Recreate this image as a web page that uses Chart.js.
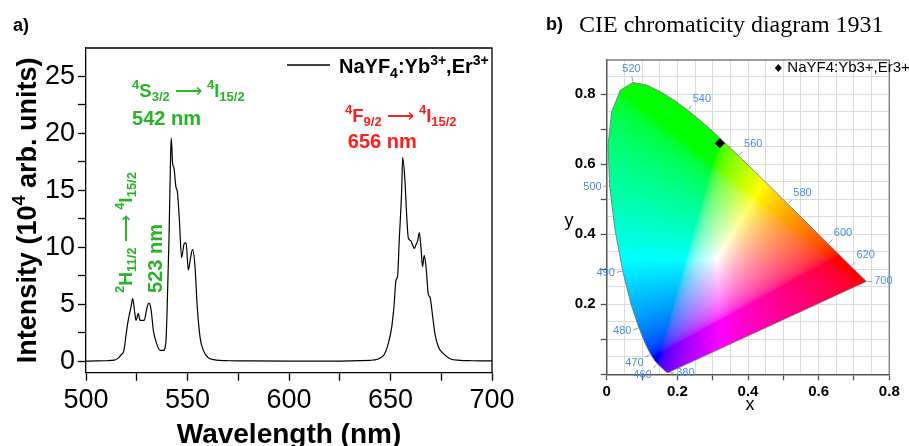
<!DOCTYPE html>
<html>
<head>
<meta charset="utf-8">
<title>NaYF4:Yb,Er upconversion emission and CIE coordinates</title>
<script src="https://cdn.jsdelivr.net/npm/chart.js@4.4.1/dist/chart.umd.min.js"></script>
<style>
  html, body { margin: 0; padding: 0; background: #fff; }
  body { position: relative; width: 909px; height: 446px; overflow: hidden; }
  .box { position: absolute; top: 0; }
  #boxA { left: 0; width: 540px; height: 446px; }
  #boxB { left: 540px; width: 369px; height: 446px; }
  .tag { position: absolute; font-family: 'Liberation Sans', Arial, sans-serif; font-weight: bold; font-size: 18px; line-height: 18px; white-space: nowrap; }
  .cie { position: absolute; font-family: 'Liberation Serif', 'Times New Roman', serif; font-size: 24px; line-height: 24px; white-space: nowrap; }
</style>
</head>
<body>
<div id="boxA" class="box"><canvas id="spectrum" width="540" height="446"></canvas></div>
<div id="boxB" class="box"><canvas id="cie" width="369" height="446"></canvas></div>
<div class="tag" style="left:13px; top:16px;">a)</div>
<div class="tag" style="left:546px; top:15px;">b)</div>
<div class="cie" style="left:579px; top:12px;">CIE chromaticity diagram 1931</div>

<script>
const FONT = "'Liberation Sans', Arial, sans-serif";
const GREEN = '#27b427';
const RED = '#ff1e1e';
const LOCUS_BLUE = '#4a8ee0';

// emission spectrum (wavelength in nm, intensity in 10^4 arb. units)
const wavelength = [500, 505, 510, 514, 516, 517.5, 518.7, 519.7, 520.8, 522.2, 523, 524, 524.6, 525.8,
  526.6, 528.7, 529.9, 531, 532, 533.2, 534.8, 536.5, 538.1, 539.4, 540, 540.9, 541.7, 542, 542.7,
  543.3, 544.3, 545, 546, 547.1, 548.3, 549.3, 550.4, 551.5, 552.5, 553.7, 554.8, 556.2, 557.8,
  560.2, 563, 566, 570, 580, 600, 620, 640, 646.5, 648.9, 650.6, 651.7, 652.7, 653.5, 654.3, 655.5,
  656, 657.1, 658, 658.8, 659.9, 660.9, 661.7, 662.5, 663.4, 664.2, 665, 665.8, 666.6, 667.5, 668.6,
  669.5, 670.8, 671.9, 673.6, 676.1, 679.3, 684.2, 690, 700];
const intensity = [0.02, 0.03, 0.05, 0.1, 0.3, 0.6, 0.96, 2.3, 3.6, 4.8, 5.5, 4.3, 3.6, 4.2,
  3.6, 3.6, 4.6, 5.1, 4.6, 2.7, 1.55, 0.96, 0.96, 1.8, 4.8, 10.9, 18.2, 19.6, 17.3,
  17.0, 15.3, 14.9, 12.4, 9.1, 10.3, 10.4, 8.0, 9.1, 9.8, 8.3, 4.8, 2.1, 0.96,
  0.32, 0.15, 0.08, 0.05, 0.03, 0.02, 0.02, 0.09, 0.5, 1.55, 3.0, 4.8, 7.1, 7.5, 10.6, 15.0,
  17.9, 15.9, 12.7, 10.8, 10.6, 10.2, 9.9, 10.2, 10.6, 11.3, 10.0, 8.3, 9.3, 8.3, 5.9,
  5.6, 3.9, 2.4, 1.25, 0.67, 0.23, 0.09, 0.05, 0.03];

const specTicksX = [500, 525, 550, 575, 600, 625, 650, 675, 700];
const specLabelsX = [500, 550, 600, 650, 700];
const specTicksY = [0, 2.5, 5, 7.5, 10, 12.5, 15, 17.5, 20, 22.5, 25];
const specLabelsY = [0, 5, 10, 15, 20, 25];

// CIE 1931 spectral locus
const locusNm = [380, 385, 390, 395, 400, 405, 410, 415, 420, 425, 430, 435, 440, 445, 450, 455,
  460, 465, 470, 475, 480, 485, 490, 495, 500, 505, 510, 515, 520, 525, 530, 535, 540, 545, 550,
  555, 560, 565, 570, 575, 580, 585, 590, 595, 600, 605, 610, 615, 620, 625, 630, 635, 640, 645,
  650, 655, 660, 665, 670, 675, 680, 685, 690, 695, 700];
const locusX = [0.1741, 0.1740, 0.1738, 0.1736, 0.1733, 0.1730, 0.1726, 0.1721, 0.1714, 0.1703,
  0.1689, 0.1669, 0.1644, 0.1611, 0.1566, 0.1510, 0.1440, 0.1355, 0.1241, 0.1096, 0.0913, 0.0687,
  0.0454, 0.0235, 0.0082, 0.0039, 0.0139, 0.0389, 0.0743, 0.1142, 0.1547, 0.1929, 0.2296, 0.2658,
  0.3016, 0.3373, 0.3731, 0.4087, 0.4441, 0.4788, 0.5125, 0.5448, 0.5752, 0.6029, 0.6270, 0.6482,
  0.6658, 0.6801, 0.6915, 0.7006, 0.7079, 0.7140, 0.7190, 0.7230, 0.7260, 0.7283, 0.7300, 0.7311,
  0.7320, 0.7327, 0.7334, 0.7340, 0.7344, 0.7346, 0.7347];
const locusY = [0.0050, 0.0050, 0.0049, 0.0049, 0.0048, 0.0048, 0.0048, 0.0048, 0.0051, 0.0058,
  0.0069, 0.0086, 0.0109, 0.0138, 0.0177, 0.0227, 0.0297, 0.0399, 0.0578, 0.0868, 0.1327, 0.2007,
  0.2950, 0.4127, 0.5384, 0.6548, 0.7502, 0.8120, 0.8338, 0.8262, 0.8059, 0.7816, 0.7543, 0.7243,
  0.6923, 0.6589, 0.6245, 0.5896, 0.5547, 0.5202, 0.4866, 0.4544, 0.4242, 0.3965, 0.3725, 0.3514,
  0.3340, 0.3197, 0.3083, 0.2993, 0.2920, 0.2859, 0.2809, 0.2770, 0.2740, 0.2717, 0.2700, 0.2689,
  0.2680, 0.2673, 0.2666, 0.2660, 0.2656, 0.2654, 0.2653];
const locusLabelNm = [380, 460, 470, 480, 490, 500, 520, 540, 560, 580, 600, 620, 700];

// chromaticity of the sample
const sampleX = [0.32];
const sampleY = [0.66];

const cieTicksX = [0, 0.05, 0.1, 0.15, 0.2, 0.25, 0.3, 0.35, 0.4, 0.45, 0.5, 0.55, 0.6, 0.65, 0.7, 0.75, 0.8];
const cieTicksY = [0, 0.05, 0.1, 0.15, 0.2, 0.25, 0.3, 0.35, 0.4, 0.45, 0.5, 0.55, 0.6, 0.65, 0.7, 0.75, 0.8, 0.85];
const cieMajor = [0, 0.1, 0.2, 0.3, 0.4, 0.5, 0.6, 0.7, 0.8];
const cieLabelsX = [0, 0.2, 0.4, 0.6, 0.8];
const cieLabelsY = [0.2, 0.4, 0.6, 0.8];

// label direction for the two ends of the locus (elsewhere the outward normal is used)
const endLabelDir = { 380: [1, 0.1], 700: [1, 0] };

const near = (a, b) => Math.abs(a - b) < 1e-6;
const inList = (list, v) => list.some(t => near(t, v));

// text with super/subscripts: parts = [[text, 'sup'|'sub'|'arrow'|undefined], ...]
function partFont(k, size, weight) {
  const fs = (k === 'sup' || k === 'sub') ? Math.round(size * 0.68) : size;
  return (k === 'arrow' ? 'normal' : weight) + ' ' + fs + 'px ' + FONT;
}
function richWidth(ctx, parts, size, weight) {
  let w = 0;
  parts.forEach(([t, k]) => {
    ctx.font = partFont(k, size, weight);
    w += ctx.measureText(t).width;
  });
  return w;
}
function drawRich(ctx, parts, x, y, size, color, weight = 'bold', align = 'left') {
  let cx = x;
  if (align === 'center') cx -= richWidth(ctx, parts, size, weight) / 2;
  ctx.fillStyle = color;
  ctx.textBaseline = 'alphabetic';
  ctx.textAlign = 'left';
  parts.forEach(([t, k]) => {
    ctx.font = partFont(k, size, weight);
    const dy = k === 'sup' ? -0.42 * size : k === 'sub' ? 0.24 * size : 0;
    ctx.fillText(t, cx, y + dy);
    cx += ctx.measureText(t).width;
  });
}

const ARROW = ' \u27F6 ';
const transS = [['4', 'sup'], ['S'], ['3/2', 'sub'], [ARROW, 'arrow'], ['4', 'sup'], ['I'], ['15/2', 'sub']];
const transF = [['4', 'sup'], ['F'], ['9/2', 'sub'], [ARROW, 'arrow'], ['4', 'sup'], ['I'], ['15/2', 'sub']];
const transH = [['2', 'sup'], ['H'], ['11/2', 'sub'], [ARROW, 'arrow'], ['4', 'sup'], ['I'], ['15/2', 'sub']];
const sampleName = [['NaYF'], ['4', 'sub'], [':Yb'], ['3+', 'sup'], [',Er'], ['3+', 'sup']];

// peak annotations, anchored in data coordinates
const notesA = [
  { parts: transS, at: [522.7, 23.2], size: 18.5, color: GREEN },
  { parts: [['542 nm']], at: [522.7, 20.7], size: 20, color: GREEN },
  { parts: transF, at: [627.6, 21.0], size: 18.5, color: RED },
  { parts: [['656 nm']], at: [629, 18.7], size: 20, color: RED },
  { parts: transH, at: [522.5, 6.0], size: 19, color: GREEN, rotate: true },
  { parts: [['523 nm']], at: [537.3, 6.0], size: 20, color: GREEN, rotate: true }
];

const spectrumDecor = {
  id: 'spectrumDecor',
  afterDraw(chart) {
    const { ctx, chartArea: a, scales: { x, y } } = chart;
    ctx.save();
    // box frame
    ctx.strokeStyle = '#000';
    ctx.lineWidth = 1.3;
    ctx.beginPath();
    ctx.moveTo(a.left, a.top); ctx.lineTo(a.right, a.top); ctx.lineTo(a.right, a.bottom);
    ctx.stroke();

    notesA.forEach(n => {
      const px = x.getPixelForValue(n.at[0]);
      const py = y.getPixelForValue(n.at[1]);
      if (n.rotate) {
        ctx.save();
        ctx.translate(px, py);
        ctx.rotate(-Math.PI / 2);
        drawRich(ctx, n.parts, 0, 0, n.size, n.color);
        ctx.restore();
      } else {
        drawRich(ctx, n.parts, px, py, n.size, n.color);
      }
    });

    // legend
    ctx.strokeStyle = '#000';
    ctx.lineWidth = 1.3;
    ctx.beginPath();
    ctx.moveTo(a.right - 205, a.top + 17);
    ctx.lineTo(a.right - 162, a.top + 17);
    ctx.stroke();
    drawRich(ctx, sampleName, a.right - 153, a.top + 25, 20, '#000');

    // axis titles
    drawRich(ctx, [['Wavelength (nm)']], (a.left + a.right) / 2, 443, 28, '#000', 'bold', 'center');
    ctx.save();
    ctx.translate(36, (a.top + a.bottom) / 2);
    ctx.rotate(-Math.PI / 2);
    drawRich(ctx, [['Intensity (10'], ['4', 'sup'], [' arb. units)']], 0, 0, 27, '#000', 'bold', 'center');
    ctx.restore();
    ctx.restore();
  }
};

new Chart(document.getElementById('spectrum'), {
  type: 'line',
  data: {
    datasets: [{
      label: 'NaYF4:Yb3+,Er3+',
      data: wavelength.map((w, i) => ({ x: w, y: intensity[i] })),
      borderColor: '#000',
      borderWidth: 1.2,
      pointRadius: 0,
      cubicInterpolationMode: 'monotone'
    }]
  },
  options: {
    responsive: false,
    animation: false,
    layout: { padding: { top: 48, right: 48, left: 0, bottom: 0 } },
    plugins: { legend: { display: false }, tooltip: { enabled: false } },
    scales: {
      x: {
        type: 'linear', min: 500, max: 700,
        afterBuildTicks: s => { s.ticks = specTicksX.map(v => ({ value: v })); },
        afterFit: s => { s.height = 73.3; },
        grid: { drawOnChartArea: false, tickLength: 8, tickColor: '#000', tickWidth: 1.3 },
        border: { color: '#000', width: 1.3 },
        ticks: {
          autoSkip: false, maxRotation: 0, padding: 4, color: '#000',
          font: { family: FONT, size: 27 },
          callback: v => inList(specLabelsX, v) ? String(v) : ''
        }
      },
      y: {
        type: 'linear', min: -1, max: 27.5,
        afterBuildTicks: s => { s.ticks = specTicksY.map(v => ({ value: v })); },
        afterFit: s => { s.width = 86; },
        grid: { drawOnChartArea: false, tickLength: 8, tickColor: '#000', tickWidth: 1.3 },
        border: { color: '#000', width: 1.3 },
        ticks: {
          autoSkip: false, padding: 3, color: '#000',
          font: { family: FONT, size: 27 },
          callback: v => inList(specLabelsY, v) ? String(v) : ''
        }
      }
    }
  },
  plugins: [spectrumDecor]
});

// chromaticity (x, y) -> display colour, brightest in-gamut sRGB for that hue
function chromaColor(cx, cy) {
  const yy = Math.max(cy, 1e-4);
  const X = cx / yy, Y = 1, Z = (1 - cx - cy) / yy;
  let r = 3.2406 * X - 1.5372 * Y - 0.4986 * Z;
  let g = -0.9689 * X + 1.8758 * Y + 0.0415 * Z;
  let b = 0.0557 * X - 0.2040 * Y + 1.0570 * Z;
  r = Math.max(r, 0); g = Math.max(g, 0); b = Math.max(b, 0);
  const m = Math.max(r, g, b) || 1;
  const enc = c => {
    c = c / m;
    c = c <= 0.0031308 ? 12.92 * c : 1.055 * Math.pow(c, 1 / 2.4) - 0.055;
    return Math.round(255 * Math.min(1, c));
  };
  return [enc(r), enc(g), enc(b)];
}

function locusPath(ctx, x, y) {
  ctx.beginPath();
  locusX.forEach((v, k) => {
    const px = x.getPixelForValue(v), py = y.getPixelForValue(locusY[k]);
    if (k === 0) ctx.moveTo(px, py); else ctx.lineTo(px, py);
  });
  ctx.closePath();
}

const gamutFill = {
  id: 'gamutFill',
  beforeDatasetsDraw(chart) {
    const { ctx, chartArea: a, scales: { x, y } } = chart;
    const w = Math.ceil(a.right - a.left), h = Math.ceil(a.bottom - a.top);
    const off = document.createElement('canvas');
    off.width = w; off.height = h;
    const octx = off.getContext('2d');
    const img = octx.createImageData(w, h);
    for (let j = 0; j < h; j++) {
      const cy = y.getValueForPixel(a.top + j + 0.5);
      for (let i = 0; i < w; i++) {
        const cx = x.getValueForPixel(a.left + i + 0.5);
        const c = chromaColor(cx, cy);
        const k = (j * w + i) * 4;
        img.data[k] = c[0]; img.data[k + 1] = c[1]; img.data[k + 2] = c[2]; img.data[k + 3] = 255;
      }
    }
    octx.putImageData(img, 0, 0);
    ctx.save();
    locusPath(ctx, x, y);
    ctx.clip();
    ctx.drawImage(off, a.left, a.top);
    ctx.restore();
  },
  afterDatasetsDraw(chart) {
    const { ctx, chartArea: a, scales: { x, y } } = chart;
    ctx.save();
    // frame
    ctx.strokeStyle = '#808080';
    ctx.lineWidth = 1.4;
    ctx.beginPath();
    ctx.moveTo(a.left, a.top); ctx.lineTo(a.right, a.top); ctx.lineTo(a.right, a.bottom);
    ctx.stroke();

    // wavelength marks along the locus
    const cxw = x.getPixelForValue(0.33), cyw = y.getPixelForValue(0.33);
    ctx.font = '11px ' + FONT;
    locusLabelNm.forEach(nm => {
      const k = locusNm.indexOf(nm);
      const n = locusNm.length;
      const p = [x.getPixelForValue(locusX[k]), y.getPixelForValue(locusY[k])];
      let nx, ny;
      if (endLabelDir[nm]) {
        const d = endLabelDir[nm], l = Math.hypot(d[0], d[1]);
        nx = d[0] / l; ny = d[1] / l;
      } else {
        const kp = (k - 1 + n) % n, kn = (k + 1) % n;
        const tx = x.getPixelForValue(locusX[kn]) - x.getPixelForValue(locusX[kp]);
        const ty = y.getPixelForValue(locusY[kn]) - y.getPixelForValue(locusY[kp]);
        const len = Math.hypot(tx, ty) || 1;
        nx = ty / len; ny = -tx / len;
        if ((p[0] - cxw) * nx + (p[1] - cyw) * ny < 0) { nx = -nx; ny = -ny; }
      }
      ctx.strokeStyle = '#9a9a9a';
      ctx.lineWidth = 1;
      ctx.beginPath();
      ctx.moveTo(p[0] + nx, p[1] + ny);
      ctx.lineTo(p[0] + nx * 6, p[1] + ny * 6);
      ctx.stroke();
      ctx.fillStyle = LOCUS_BLUE;
      ctx.textAlign = nx > 0.35 ? 'left' : nx < -0.35 ? 'right' : 'center';
      ctx.textBaseline = ny > 0.35 ? 'top' : ny < -0.35 ? 'bottom' : 'middle';
      ctx.fillText(String(nm), p[0] + nx * 8, p[1] + ny * 8);
    });

    // legend
    const lx = a.right - 111, ly = a.top + 8;
    ctx.fillStyle = '#000';
    ctx.beginPath();
    ctx.moveTo(lx, ly - 4); ctx.lineTo(lx + 3.5, ly); ctx.lineTo(lx, ly + 4); ctx.lineTo(lx - 3.5, ly);
    ctx.closePath();
    ctx.fill();
    ctx.font = '15px ' + FONT;
    ctx.textAlign = 'left';
    ctx.textBaseline = 'middle';
    ctx.fillText('NaYF4:Yb3+,Er3+', lx + 9, ly);

    // axis titles
    ctx.font = '18px ' + FONT;
    ctx.textAlign = 'center';
    ctx.textBaseline = 'alphabetic';
    ctx.fillText('x', (a.left + a.right) / 2 + 2, 410);
    ctx.fillText('y', 29, 226);
    ctx.restore();
  }
};

new Chart(document.getElementById('cie'), {
  type: 'scatter',
  data: {
    datasets: [
      {
        label: 'NaYF4:Yb3+,Er3+',
        data: sampleX.map((v, i) => ({ x: v, y: sampleY[i] })),
        pointStyle: 'rectRot', pointRadius: 4.5,
        backgroundColor: '#000', borderColor: '#000', order: 0
      },
      {
        label: 'spectral locus',
        data: locusX.concat([locusX[0]]).map((v, i) => ({ x: v, y: locusY.concat([locusY[0]])[i] })),
        showLine: true, pointRadius: 0, borderColor: '#6e6e6e', borderWidth: 0.8, order: 1
      }
    ]
  },
  options: {
    responsive: false,
    animation: false,
    layout: { padding: { top: 60, right: 19.7, left: 0, bottom: 0 } },
    plugins: { legend: { display: false }, tooltip: { enabled: false } },
    scales: {
      x: {
        type: 'linear', min: 0, max: 0.8,
        afterBuildTicks: s => { s.ticks = cieTicksX.map(v => ({ value: v })); },
        afterFit: s => { s.height = 71.7; },
        grid: {
          color: '#dcdcdc', lineWidth: 1, tickLength: 6, tickWidth: 1.3,
          tickColor: c => inList(cieMajor, c.tick.value) ? '#555' : 'rgba(0,0,0,0)'
        },
        border: { color: '#555', width: 1.5 },
        ticks: {
          autoSkip: false, maxRotation: 0, padding: 3, color: '#000',
          font: { family: FONT, size: 15, weight: 'bold' },
          callback: v => inList(cieLabelsX, v) ? String(+v.toFixed(1)) : ''
        }
      },
      y: {
        type: 'linear', min: 0, max: 0.898,
        afterBuildTicks: s => { s.ticks = cieTicksY.map(v => ({ value: v })); },
        afterFit: s => { s.width = 66.7; },
        grid: {
          color: '#dcdcdc', lineWidth: 1, tickLength: 6, tickWidth: 1.3,
          tickColor: c => inList(cieMajor, c.tick.value) ? '#555' : 'rgba(0,0,0,0)'
        },
        border: { color: '#555', width: 1.5 },
        ticks: {
          autoSkip: false, padding: 5, color: '#000',
          font: { family: FONT, size: 15, weight: 'bold' },
          callback: v => inList(cieLabelsY, v) ? String(+v.toFixed(1)) : ''
        }
      }
    }
  },
  plugins: [gamutFill]
});
</script>
</body>
</html>
